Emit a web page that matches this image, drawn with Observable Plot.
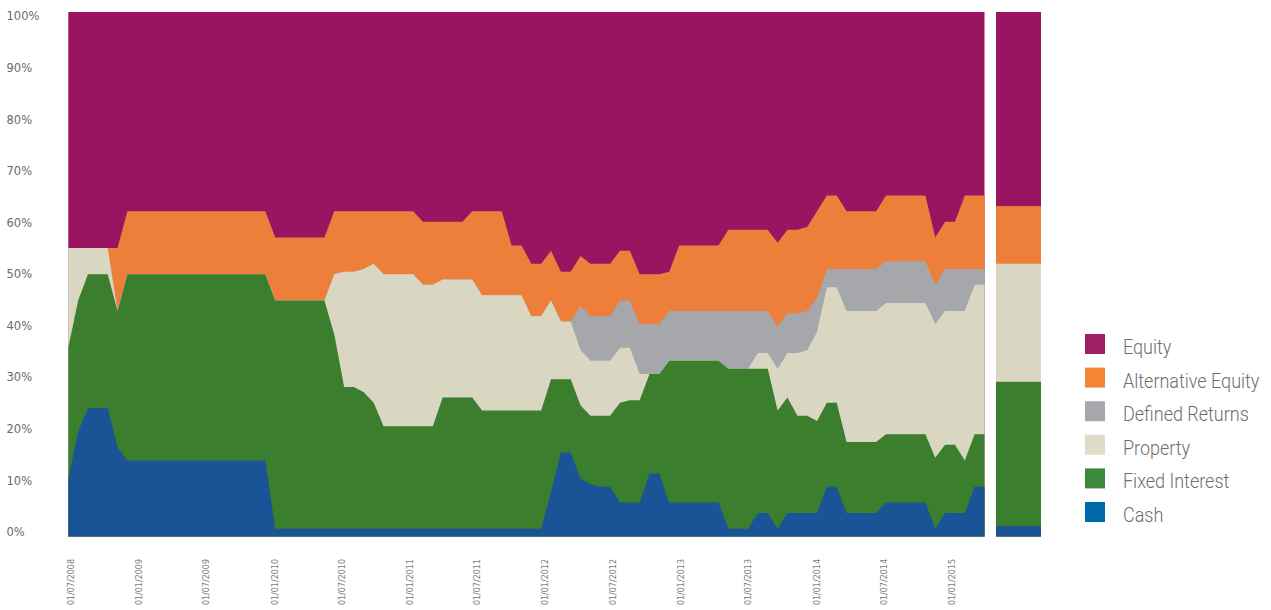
<!DOCTYPE html>
<html>
<head>
<meta charset="utf-8">
<script src="https://cdn.jsdelivr.net/npm/d3@7"></script>
<script src="https://cdn.jsdelivr.net/npm/@observablehq/plot@0.6"></script>
<style>
  html, body { margin: 0; padding: 0; background: #ffffff; }
  #chart { position: relative; width: 1271px; height: 610px; overflow: hidden; }
  #chart > * { position: absolute; top: 0; }
  #main { left: 0; }
  #yaxis { left: 0; }
  #current { left: 990px; }
  #legend { left: 0; }
</style>
</head>
<body>
<div id="chart">
  <div id="main"></div>
  <div id="yaxis"></div>
  <div id="current"></div>
  <svg id="legend" width="1271" height="610"></svg>
</div>
<script>
// Asset classes, stacked from the bottom up
const assets = ["Cash", "Fixed Interest", "Property", "Defined Returns", "Alternative Equity", "Equity"];
const areaColors = ["#1b5496", "#3a7e2e", "#d9d6c2", "#a6a7ab", "#ee7f3b", "#9b1461"];
const swatchColors = ["#0069aa", "#3f8a3a", "#e0dcca", "#a6a8ab", "#f58634", "#a01e63"];

// Valuation points run evenly from the first to the last valuation date
const firstValuation = "2008-06-24";
const lastValuation = "2015-03-30";

// Allocation (% of portfolio) at each valuation point
const cash = [
  11, 20, 24.5, 24.5, 24.5, 17, 14.5, 14.5, 14.5, 14.5,
  14.5, 14.5, 14.5, 14.5, 14.5, 14.5, 14.5, 14.5, 14.5, 14.5,
  14.5, 1.5, 1.5, 1.5, 1.5, 1.5, 1.5, 1.5, 1.5, 1.5,
  1.5, 1.5, 1.5, 1.5, 1.5, 1.5, 1.5, 1.5, 1.5, 1.5,
  1.5, 1.5, 1.5, 1.5, 1.5, 1.5, 1.5, 1.5, 1.5, 8.5,
  16, 16, 11, 10, 9.5, 9.5, 6.5, 6.5, 6.5, 12,
  12, 6.5, 6.5, 6.5, 6.5, 6.5, 6.5, 1.5, 1.5, 1.5,
  4.5, 4.5, 1.5, 4.5, 4.5, 4.5, 4.5, 9.5, 9.5, 4.5,
  4.5, 4.5, 4.5, 6.5, 6.5, 6.5, 6.5, 6.5, 1.5, 4.5,
  4.5, 4.5, 9.5, 9.5
];
const fixedInterest = [
  25, 25, 25.5, 25.5, 25.5, 26, 35.5, 35.5, 35.5, 35.5,
  35.5, 35.5, 35.5, 35.5, 35.5, 35.5, 35.5, 35.5, 35.5, 35.5,
  35.5, 43.5, 43.5, 43.5, 43.5, 43.5, 43.5, 37, 27, 27,
  26, 24, 19.5, 19.5, 19.5, 19.5, 19.5, 19.5, 25, 25,
  25, 25, 22.5, 22.5, 22.5, 22.5, 22.5, 22.5, 22.5, 21.5,
  14, 14, 14, 13, 13.5, 13.5, 19, 19.5, 19.5, 19,
  19, 27, 27, 27, 27, 27, 27, 30.5, 30.5, 30.5,
  27.5, 27.5, 22.5, 22, 18.5, 18.5, 17.5, 16, 16, 13.5,
  13.5, 13.5, 13.5, 13, 13, 13, 13, 13, 13.5, 13,
  13, 10, 10, 10
];
const property = [
  19, 10, 5, 5, 5, 0, 0, 0, 0, 0,
  0, 0, 0, 0, 0, 0, 0, 0, 0, 0,
  0, 0, 0, 0, 0, 0, 0, 11.5, 22, 22,
  23.5, 26.5, 29, 29, 29, 29, 27, 27, 22.5, 22.5,
  22.5, 22.5, 22, 22, 22, 22, 22, 18, 18, 15,
  11, 11, 10.5, 10.5, 10.5, 10.5, 10.5, 10, 5, 0,
  0, 0, 0, 0, 0, 0, 0, 0, 0, 0,
  3, 3, 8, 8.5, 12, 12.5, 17, 22, 22, 25,
  25, 25, 25, 25, 25, 25, 25, 25, 25.5, 25.5,
  25.5, 28.5, 28.5, 28.5
];
const definedReturns = [
  0, 0, 0, 0, 0, 0, 0, 0, 0, 0,
  0, 0, 0, 0, 0, 0, 0, 0, 0, 0,
  0, 0, 0, 0, 0, 0, 0, 0, 0, 0,
  0, 0, 0, 0, 0, 0, 0, 0, 0, 0,
  0, 0, 0, 0, 0, 0, 0, 0, 0, 0,
  0, 0, 8.5, 8.5, 8.5, 8.5, 9, 9, 9.5, 9.5,
  9.5, 9.5, 9.5, 9.5, 9.5, 9.5, 9.5, 11, 11, 11,
  8, 8, 8, 7.5, 7.5, 7.5, 6.5, 3.5, 3.5, 8,
  8, 8, 8, 8, 8, 8, 8, 8, 7.5, 8,
  8, 8, 3, 3
];
const alternativeEquity = [
  0, 0, 0, 0, 0, 12, 12, 12, 12, 12,
  12, 12, 12, 12, 12, 12, 12, 12, 12, 12,
  12, 12, 12, 12, 12, 12, 12, 12, 11.5, 11.5,
  11, 10, 12, 12, 12, 12, 12, 12, 11, 11,
  11, 13, 16, 16, 16, 9.5, 9.5, 10, 10, 9.5,
  9.5, 9.5, 9.5, 10, 10, 10, 9.5, 9.5, 9.5, 9.5,
  9.5, 7.5, 12.5, 12.5, 12.5, 12.5, 12.5, 15.5, 15.5, 15.5,
  15.5, 15.5, 16, 16, 16, 16, 16.5, 14, 14, 11,
  11, 11, 11, 12.5, 12.5, 12.5, 12.5, 12.5, 9, 9,
  9, 14, 14, 14
];
const equity = [
  45, 45, 45, 45, 45, 45, 38, 38, 38, 38,
  38, 38, 38, 38, 38, 38, 38, 38, 38, 38,
  38, 43, 43, 43, 43, 43, 43, 38, 38, 38,
  38, 38, 38, 38, 38, 38, 40, 40, 40, 40,
  40, 38, 38, 38, 38, 44.5, 44.5, 48, 48, 45.5,
  49.5, 49.5, 46.5, 48, 48, 48, 45.5, 45.5, 50, 50,
  50, 49.5, 44.5, 44.5, 44.5, 44.5, 44.5, 41.5, 41.5, 41.5,
  41.5, 41.5, 44, 41.5, 41.5, 41, 38, 35, 35, 38,
  38, 38, 38, 35, 35, 35, 35, 35, 43, 40,
  40, 35, 35, 35
];

// Current allocation shown as a single bar beside the history
const currentMix = [2, 27.5, 22.5, 0, 11, 37];

const tickLabels = [
  "01/07/2008", "01/01/2009", "01/07/2009", "01/01/2010", "01/07/2010",
  "01/01/2011", "01/07/2011", "01/01/2012", "01/07/2012", "01/01/2013",
  "01/07/2013", "01/01/2014", "01/07/2014", "01/01/2015"
];
const yTicks = [0, 10, 20, 30, 40, 50, 60, 70, 80, 90, 100];

const series = [cash, fixedInterest, property, definedReturns, alternativeEquity, equity];
const parseTick = d3.utcParse("%d/%m/%Y");
const t0 = new Date(firstValuation), t1 = new Date(lastValuation);
const dates = cash.map((_, i) => new Date(+t0 + (t1 - t0) * i / (cash.length - 1)));

// Cumulative tops; each layer is painted from 0 up to its top, top-most class first,
// so neighbouring layers share an edge with no seam between them
const rows = dates.flatMap((date, i) => {
  let top = 0;
  return assets.map((asset, k) => ({date, asset, top: (top += series[k][i])}));
});
let acc = 0;
const currentRows = assets.map((asset, k) => ({asset, top: (acc += currentMix[k])}));

const color = {domain: assets, range: areaColors};
const H = 610;
const axisStyle = {fontFamily: "DejaVu Sans, sans-serif", color: "#7a7a7a", background: "transparent"};

const main = Plot.plot({
  width: 990, height: H,
  marginLeft: 68.3, marginRight: 5.5, marginTop: 12, marginBottom: 73.5,
  style: {...axisStyle, fontSize: "8px"},
  x: {type: "utc", domain: [t0, t1]},
  y: {domain: [0, 100], axis: null},
  color,
  marks: [
    ...assets.slice().reverse().map(a =>
      Plot.areaY(rows.filter(d => d.asset === a), {x: "date", y1: 0, y2: "top", fill: "asset", curve: "linear"})
    ),
    Plot.axisX(tickLabels.map(parseTick), {
      tickFormat: "%d/%m/%Y", tickRotate: -90, tickSize: 0, tickPadding: 22, fontSize: 8
    })
  ]
});
document.getElementById("main").appendChild(main);

// Percentage labels, left-aligned in the margin
const yaxis = Plot.plot({
  width: 68, height: H,
  marginLeft: 68, marginRight: 0, marginTop: 16.3, marginBottom: 78,
  style: {...axisStyle, fontSize: "11.5px"},
  y: {domain: [0, 100]},
  marks: [
    Plot.axisY(yTicks, {tickFormat: d => d + "%", tickSize: 0, tickPadding: 62, textAnchor: "start", fill: "#6b6b6b"})
  ]
});
document.getElementById("yaxis").appendChild(yaxis);

const current = Plot.plot({
  width: 56, height: H,
  marginLeft: 6, marginRight: 5, marginTop: 12, marginBottom: 73.5,
  style: axisStyle,
  x: {axis: null, padding: 0},
  y: {domain: [0, 100], axis: null},
  color,
  marks: [
    Plot.barY(currentRows.slice().reverse(), {x: () => "current", y1: 0, y2: "top", fill: "asset"})
  ]
});
document.getElementById("current").appendChild(current);

// Legend, listed top to bottom in stacking order
const legend = d3.select("#legend");
const items = assets.map((a, k) => ({label: a, swatch: swatchColors[k]})).reverse();
const rowsG = legend.selectAll("g").data(items).join("g")
  .attr("transform", (d, i) => `translate(1085,${334 + i * 33.6})`);
rowsG.append("rect").attr("width", 20).attr("height", 20).attr("fill", d => d.swatch);
rowsG.append("text")
  .attr("transform", "translate(38,20) scale(0.9,1)")
  .attr("font-family", "Roboto, sans-serif")
  .attr("font-weight", 300)
  .attr("font-size", 20)
  .attr("fill", "#6d6e71")
  .text(d => d.label);
</script>
</body>
</html>
